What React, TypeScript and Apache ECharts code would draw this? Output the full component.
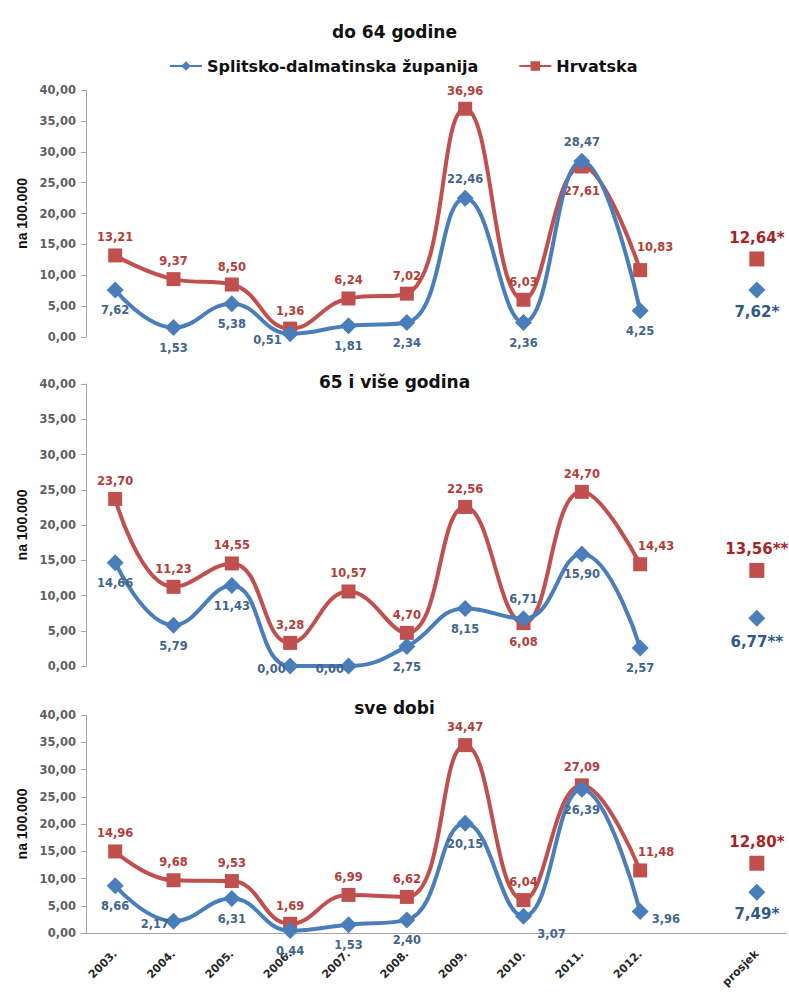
import React, { useEffect, useRef } from "react";
import * as echarts from "echarts";

const categories = ["2003.", "2004.", "2005.", "2006.", "2007.", "2008.", "2009.", "2010.", "2011.", "2012.", "", "prosjek"];
const panelTitles = ["do 64 godine", "65 i više godina", "sve dobi"];
const seriesNames = ["Splitsko-dalmatinska županija", "Hrvatska"];

// do 64 godine
const split1 = [7.62, 1.53, 5.38, 0.51, 1.81, 2.34, 22.46, 2.36, 28.47, 4.25];
const hrv1 = [13.21, 9.37, 8.5, 1.36, 6.24, 7.02, 36.96, 6.03, 27.61, 10.83];
const splitAvg1 = 7.62;
const hrvAvg1 = 12.64;
const avgMark1 = "*";

// 65 i više godina
const split2 = [14.66, 5.79, 11.43, 0.0, 0.0, 2.75, 8.15, 6.71, 15.9, 2.57];
const hrv2 = [23.7, 11.23, 14.55, 3.28, 10.57, 4.7, 22.56, 6.08, 24.7, 14.43];
const splitAvg2 = 6.77;
const hrvAvg2 = 13.56;
const avgMark2 = "**";

// sve dobi
const split3 = [8.66, 2.17, 6.31, 0.44, 1.53, 2.4, 20.15, 3.07, 26.39, 3.96];
const hrv3 = [14.96, 9.68, 9.53, 1.69, 6.99, 6.62, 34.47, 6.04, 27.09, 11.48];
const splitAvg3 = 7.49;
const hrvAvg3 = 12.8;
const avgMark3 = "*";

// label placements (style, not data)
const splitPlace = [
  ["b", "b", "b", "lb", "b", "b", "t", "b", "t", "b"],
  ["b", "b", "b", "l", "l", "b", "b", "t", "b", "b"],
  ["b", "l", "b", "b", "b", "b", "b", "br", "b", "rb"],
];
const hrvPlace = [
  ["t", "t", "t", "t", "t", "t", "t", "t", "bb", "tr2"],
  ["t", "t", "t", "t", "t", "t", "t", "b", "t", "tr"],
  ["t", "t", "t", "t", "t", "t", "t", "t", "t", "tr"],
];

const BLUE = "#4a7ebb";
const RED = "#c0504d";
const BLUE_TXT = "#42658c";
const RED_TXT = "#b33d3a";
const FONT = "DejaVu Sans";

const fmt = (v: number) => v.toFixed(2).replace(".", ",");

function placeLabel(code: string) {
  switch (code) {
    case "t": return { position: "top", distance: 5 };
    case "b": return { position: "bottom", distance: 6 };
    case "bb": return { position: "bottom", distance: 11 };
    case "l": return { position: "left", distance: 2, offset: [6, 3] };
    case "lb": return { position: "left", distance: 2, offset: [2, 6] };
    case "r": return { position: "right", distance: 4 };
    case "rb": return { position: "right", distance: 3, offset: [0, 8] };
    case "tr": return { position: "top", distance: 5, offset: [16, 0] };
    case "tr2": return { position: "top", distance: 5, offset: [15, -5] };
    case "br": return { position: "bottom", distance: 3, offset: [28, 0] };
    default: return { position: "top" };
  }
}

const grids = [
  { left: 86, top: 90, width: 700, height: 247, outerBoundsMode: "none" },
  { left: 86, top: 384, width: 700, height: 282, outerBoundsMode: "none" },
  { left: 86, top: 715, width: 700, height: 218, outerBoundsMode: "none" },
];
const titleTops = [18, 368, 694];

export default function App() {
  const ref = useRef<HTMLDivElement>(null);
  useEffect(() => {
    if (!ref.current) return;
    const chart = echarts.init(ref.current, undefined, { renderer: "svg" });
    const splits = [split1, split2, split3];
    const hrvs = [hrv1, hrv2, hrv3];
    const splitAvgs = [splitAvg1, splitAvg2, splitAvg3];
    const hrvAvgs = [hrvAvg1, hrvAvg2, hrvAvg3];
    const marks = [avgMark1, avgMark2, avgMark3];

    const series: any[] = [];
    const avgLabelDist = [
      { red: 6, blue: 6 },
      { red: 6, blue: 8 },
      { red: 6, blue: 6 },
    ];
    for (let p = 0; p < 3; p++) {
      series.push({
        type: "line",
        name: seriesNames[1],
        xAxisIndex: p,
        yAxisIndex: p,
        smooth: 0.45,
        symbol: "rect",
        symbolSize: 14,
        lineStyle: { color: RED, width: 4 },
        itemStyle: { color: RED },
        z: 2,
        data: hrvs[p].map((v, i) => ({
          value: v,
          label: { show: true, ...placeLabel(hrvPlace[p][i]) },
        })),
        label: {
          show: true,
          formatter: (d: any) => fmt(d.value),
          color: RED_TXT,
          fontFamily: FONT,
          fontWeight: "bold",
          fontSize: 11.5,
        },
      });
      series.push({
        type: "line",
        name: seriesNames[0],
        xAxisIndex: p,
        yAxisIndex: p,
        smooth: 0.45,
        symbol: "diamond",
        symbolSize: 17,
        lineStyle: { color: BLUE, width: 4 },
        itemStyle: { color: BLUE },
        z: 3,
        data: splits[p].map((v, i) => ({
          value: v,
          label: { show: true, ...placeLabel(splitPlace[p][i]) },
        })),
        label: {
          show: true,
          formatter: (d: any) => fmt(d.value),
          color: BLUE_TXT,
          fontFamily: FONT,
          fontWeight: "bold",
          fontSize: 11.5,
        },
      });
      series.push({
        type: "scatter",
        name: "prosjek-hr-" + p,
        xAxisIndex: p,
        yAxisIndex: p,
        symbol: "rect",
        symbolSize: 15,
        itemStyle: { color: RED, opacity: 1 },
        data: [["prosjek", hrvAvgs[p]]],
        label: {
          show: true,
          position: "top",
          distance: avgLabelDist[p].red,
          formatter: (d: any) => fmt(d.value[1]) + marks[p],
          color: "#a82424",
          fontFamily: FONT,
          fontWeight: "bold",
          fontSize: 15,
        },
      });
      series.push({
        type: "scatter",
        name: "prosjek-sd-" + p,
        xAxisIndex: p,
        yAxisIndex: p,
        symbol: "diamond",
        symbolSize: 17,
        itemStyle: { color: BLUE, opacity: 1 },
        data: [["prosjek", splitAvgs[p]]],
        label: {
          show: true,
          position: "bottom",
          distance: avgLabelDist[p].blue,
          formatter: (d: any) => fmt(d.value[1]) + marks[p],
          color: "#2f5987",
          fontFamily: FONT,
          fontWeight: "bold",
          fontSize: 15,
        },
      });
    }

    const option: any = {
      animation: false,
      backgroundColor: "#ffffff",
      title: panelTitles.map((t, i) => ({
        text: t,
        left: "center",
        top: titleTops[i],
        textStyle: { fontFamily: FONT, fontWeight: "bold", fontSize: 17, color: "#111111" },
      })),
      legend: {
        data: seriesNames,
        left: 164,
        top: 53,
        itemWidth: 32,
        itemHeight: 12,
        itemGap: 40,
        textStyle: { fontFamily: FONT, fontWeight: "bold", fontSize: 16, color: "#111111" },
      },
      grid: grids,
      xAxis: grids.map((_, i) => ({
        type: "category",
        gridIndex: i,
        data: categories,
        boundaryGap: true,
        show: i === 2,
        axisLine: { show: true, lineStyle: { color: "#a6a6a6", width: 1 } },
        axisTick: { show: false },
        axisLabel: {
          interval: 0,
          rotate: 45,
          margin: 19,
          color: "#262626",
          fontFamily: FONT,
          fontWeight: "bold",
          fontSize: 11,
        },
      })),
      yAxis: grids.map((_, i) => ({
        type: "value",
        gridIndex: i,
        min: 0,
        max: 40,
        interval: 5,
        name: "na 100.000",
        nameLocation: "middle",
        nameRotate: 90,
        nameGap: 57,
        nameTextStyle: {
          fontFamily: "Liberation Sans Narrow, Liberation Sans, Arial",
          fontWeight: "bold",
          fontSize: 14,
          color: "#111111",
        },
        axisLine: { show: true, lineStyle: { color: "#a6a6a6", width: 1 } },
        axisTick: { show: true, length: 5, lineStyle: { color: "#a6a6a6" } },
        splitLine: { show: false },
        axisLabel: {
          formatter: (v: number) => fmt(v),
          margin: 10,
          color: "#5f5f5f",
          fontFamily: FONT,
          fontWeight: "bold",
          fontSize: 11.5,
        },
      })),
      series,
    };
    chart.setOption(option);
    return () => chart.dispose();
  }, []);
  return (
    <div
      ref={ref}
      style={{ position: "fixed", left: 0, top: 0, width: 789, height: 994, background: "#fff" }}
    />
  );
}
